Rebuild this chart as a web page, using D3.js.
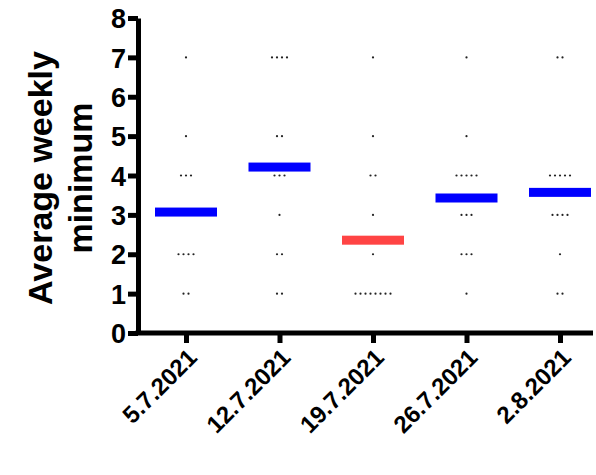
<!DOCTYPE html>
<html><head><meta charset="utf-8">
<script src="https://cdn.jsdelivr.net/npm/d3@7"></script>
<style>body{margin:0;background:#fff}</style>
</head><body><div id="chart"></div>
<script>
var weeks = ["5.7.2021", "12.7.2021", "19.7.2021", "26.7.2021", "2.8.2021"];
var scoreLevels = [1, 2, 3, 4, 5, 6, 7];
// number of responses at each level 1..7, per week
var counts5_7 = [2, 4, 3, 3, 1, 0, 1];
var counts12_7 = [2, 2, 1, 3, 2, 0, 4];
var counts19_7 = [8, 1, 1, 2, 1, 0, 1];
var counts26_7 = [1, 3, 3, 5, 1, 0, 1];
var counts2_8 = [2, 1, 4, 5, 0, 0, 2];
var barColors = ["#0000ff", "#0000ff", "#ff4444", "#0000ff", "#0000ff"];
var yTicks = [0, 1, 2, 3, 4, 5, 6, 7, 8];

var allCounts = [counts5_7, counts12_7, counts19_7, counts26_7, counts2_8];

var W = 596, H = 475, mLeft = 138, mRight = 593, mTop = 18, mBottom = 333;
var FONT = "Liberation Sans, Arial";

var svg = d3.select("#chart").append("svg").attr("width", W).attr("height", H);

var x = d3.scalePoint().domain(weeks).range([186, 560]);
var y = d3.scaleLinear().domain([0, 8]).range([mBottom, mTop]);

var yAxis = svg.append("g").attr("transform", "translate(" + mLeft + ",0)")
  .call(d3.axisLeft(y).tickValues(yTicks).tickSize(10).tickSizeOuter(0));
yAxis.select(".domain").attr("stroke-width", 5);
yAxis.selectAll(".tick line").attr("stroke-width", 5);
yAxis.selectAll("text").attr("font-family", FONT).attr("font-weight", "bold")
  .attr("font-size", 27).attr("fill", "#000").attr("x", -12).attr("dy", "0.36em");

var xAxis = svg.append("g").attr("transform", "translate(0," + mBottom + ")")
  .call(d3.axisBottom(x).tickSize(10).tickSizeOuter(0));
xAxis.select(".domain").attr("d", "M" + (mLeft - 2.5) + ",0H" + mRight).attr("stroke-width", 5);
xAxis.selectAll(".tick line").attr("stroke-width", 5);
xAxis.selectAll("text").attr("font-family", FONT).attr("font-weight", "bold")
  .attr("font-size", 24).attr("fill", "#000")
  .attr("text-anchor", "end").attr("dy", 0).attr("y", 0)
  .attr("transform", "translate(12,26) rotate(-45)");

svg.append("text").attr("transform", "translate(52,178) rotate(-90)")
  .attr("text-anchor", "middle").attr("font-family", FONT)
  .attr("font-weight", "bold").attr("font-size", 34)
  .selectAll("tspan").data(["Average weekly", "minimum"]).join("tspan")
  .attr("x", 0).attr("dy", function(d, i){ return i ? 40 : 0; }).text(function(d){ return d; });

weeks.forEach(function(week, wi){
  var counts = allCounts[wi], total = 0, sum = 0;
  scoreLevels.forEach(function(level, li){
    var n = counts[li];
    total += n; sum += n * level;
    for (var k = 0; k < n; k++) {
      svg.append("circle").attr("r", 1.1).attr("fill", "#222")
        .attr("cx", x(week) + (k - (n - 1) / 2) * 5).attr("cy", y(level));
    }
  });
  var mean = sum / total;
  svg.append("rect").attr("x", x(week) - 31).attr("width", 62)
    .attr("y", y(mean) - 4.5).attr("height", 9).attr("fill", barColors[wi]);
});
</script></body></html>
